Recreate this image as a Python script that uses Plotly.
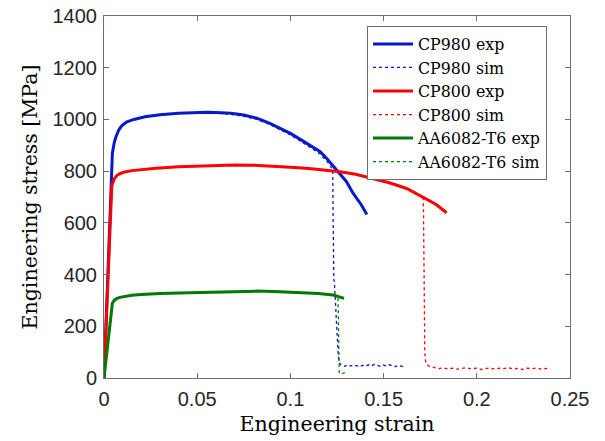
import plotly.graph_objects as go

# ---- CP980 ----
cp980_exp_strain = [0, 0.0045, 0.0055, 0.0065, 0.008, 0.0095, 0.012, 0.016, 0.022, 0.03,
                    0.04, 0.05, 0.055, 0.06, 0.068, 0.075, 0.082, 0.089, 0.095, 0.1,
                    0.106, 0.112, 0.116, 0.12, 0.1248, 0.13, 0.1337, 0.138, 0.141]
cp980_exp_stress = [0, 870, 910, 935, 960, 975, 990, 1000, 1010, 1018,
                    1024, 1027, 1028, 1027, 1024, 1017, 1005, 985, 965, 946,
                    920, 893, 875, 845, 804, 760, 714, 670, 632]

cp980_sim_strain = [0, 0.0045, 0.0055, 0.0065, 0.008, 0.0095, 0.012, 0.016, 0.022, 0.03,
                    0.04, 0.05, 0.055, 0.06, 0.068, 0.075, 0.082, 0.089, 0.095, 0.1,
                    0.106, 0.112, 0.116, 0.12, 0.1227, 0.1229, 0.1231, 0.1233, 0.1236,
                    0.1241, 0.1248, 0.1256, 0.1262, 0.1266,
                    0.1275, 0.1291, 0.1307, 0.1323, 0.1339, 0.1355, 0.1371, 0.1387,
                    0.1403, 0.1419, 0.1435, 0.1451, 0.1467, 0.1483, 0.1499, 0.1515,
                    0.1531, 0.1547, 0.1563, 0.1579, 0.1595, 0.1606]
cp980_sim_stress = [0, 870, 910, 935, 960, 975, 990, 1000, 1010, 1018,
                    1024, 1027, 1027, 1025, 1020, 1012, 1000, 980, 958, 940,
                    913, 885, 866, 835, 805, 620, 420, 385, 370,
                    290, 180, 95, 62, 55,
                    48, 45, 50, 46, 51, 47, 44, 49,
                    46, 51, 47, 53, 48, 45, 50, 46,
                    51, 48, 44, 49, 46, 44]

# ---- CP800 ----
cp800_exp_strain = [0, 0.0042, 0.0055, 0.0068, 0.0085, 0.011, 0.015, 0.02, 0.028, 0.04,
                    0.05, 0.06, 0.07, 0.08, 0.09, 0.1, 0.11, 0.12, 0.1266, 0.135,
                    0.1445, 0.153, 0.1624, 0.1713, 0.178, 0.1838]
cp800_exp_stress = [0, 745, 770, 783, 790, 797, 802, 806, 811, 817,
                    820, 823, 824, 823, 820, 815, 810, 803, 798, 788,
                    772, 755, 733, 700, 672, 639]

cp800_sim_strain = [0, 0.0042, 0.0055, 0.0068, 0.0085, 0.011, 0.015, 0.02, 0.028, 0.04,
                    0.05, 0.06, 0.07, 0.08, 0.09, 0.1, 0.11, 0.12, 0.1266, 0.135,
                    0.1445, 0.153, 0.1624, 0.1712, 0.1714, 0.1716, 0.1718, 0.1721,
                    0.1725, 0.173, 0.1738,
                    0.1745, 0.177, 0.1795, 0.182, 0.1845, 0.187, 0.1895, 0.192,
                    0.1945, 0.197, 0.1995, 0.202, 0.2045, 0.207, 0.2095, 0.212,
                    0.2145, 0.217, 0.2195, 0.222, 0.2245, 0.227, 0.2295, 0.232,
                    0.2345, 0.237, 0.2395]
cp800_sim_stress = [0, 745, 770, 783, 790, 797, 802, 806, 811, 817,
                    820, 823, 824, 823, 820, 815, 810, 803, 798, 788,
                    772, 755, 733, 698, 650, 400, 200, 100,
                    65, 58, 48,
                    45, 40, 36, 39, 35, 38, 34, 37,
                    40, 35, 38, 33, 37, 39, 34, 38,
                    36, 40, 35, 37, 33, 38, 36, 39,
                    34, 37, 35]

# ---- AA6082-T6 ----
aa6082_exp_strain = [0, 0.0045, 0.0055, 0.0068, 0.0085, 0.011, 0.015, 0.02, 0.03, 0.046,
                     0.06, 0.07, 0.082, 0.0944, 0.105, 0.115, 0.123, 0.1288]
aa6082_exp_stress = [0, 290, 300, 307, 312, 316, 320, 323, 327, 330,
                     333, 335, 336, 334, 331, 327, 321, 308]

aa6082_sim_strain = [0, 0.0045, 0.0055, 0.0068, 0.0085, 0.011, 0.015, 0.02, 0.03, 0.046,
                     0.06, 0.07, 0.082, 0.0944, 0.105, 0.115, 0.123, 0.1255,
                     0.1257, 0.1259, 0.126, 0.1262, 0.1275, 0.1297]
aa6082_sim_stress = [0, 290, 300, 307, 312, 316, 320, 323, 327, 330,
                     333, 335, 336, 334, 331, 327, 321, 318,
                     250, 120, 40, 18, 17, 22]

x_tick_vals = [0, 0.05, 0.1, 0.15, 0.2, 0.25]
x_tick_text = ["0", "0.05", "0.1", "0.15", "0.2", "0.25"]
y_tick_vals = [0, 200, 400, 600, 800, 1000, 1200, 1400]

BLUE = "#0a18cc"
RED = "#ff0000"
GREEN = "#007a00"

series = [
    ("CP980 exp", cp980_exp_strain, cp980_exp_stress, BLUE, 3, "solid"),
    ("CP980 sim", cp980_sim_strain, cp980_sim_stress, BLUE, 1.3, "dot"),
    ("CP800 exp", cp800_exp_strain, cp800_exp_stress, RED, 3, "solid"),
    ("CP800 sim", cp800_sim_strain, cp800_sim_stress, RED, 1.3, "dot"),
    ("AA6082-T6 exp", aa6082_exp_strain, aa6082_exp_stress, GREEN, 3, "solid"),
    ("AA6082-T6 sim", aa6082_sim_strain, aa6082_sim_stress, GREEN, 1.3, "dot"),
]

fig = go.Figure()
for name, xs, ys, color, width, dash in series:
    fig.add_trace(go.Scatter(
        x=xs, y=ys, mode="lines", name=name,
        line=dict(color=color, width=width, dash=dash),
    ))

SERIF = "DejaVu Serif"
axis_common = dict(
    showline=True, linecolor="#6e6e6e", linewidth=1, mirror="ticks",
    ticks="inside", ticklen=5, tickcolor="#6e6e6e", tickwidth=1,
    showgrid=False, zeroline=False, automargin=False,
    tickfont=dict(family="Liberation Sans", size=20, color="#262626"),
)

fig.update_layout(
    width=605, height=441,
    margin=dict(l=104, r=35, t=16, b=63),
    paper_bgcolor="white", plot_bgcolor="white",
    xaxis=dict(range=[0, 0.25], tickvals=x_tick_vals, ticktext=x_tick_text,
               ticklabelstandoff=3,
               title=dict(text="Engineering strain", standoff=7,
                          font=dict(family=SERIF, size=20.5, color="black")),
               **axis_common),
    yaxis=dict(range=[0, 1400], tickvals=y_tick_vals, ticklabelstandoff=2,
               title=dict(text="Engineering stress [MPa]", standoff=9,
                          font=dict(family=SERIF, size=20.5, color="black")),
               **axis_common),
    legend=dict(x=0.5644, y=0.972, xanchor="left", yanchor="top",
                bgcolor="white", bordercolor="#6e6e6e", borderwidth=1,
                font=dict(family=SERIF, size=15.8, color="black"),
                itemwidth=40, tracegroupgap=0),
    showlegend=True,
)

fig.write_html("out.html")
